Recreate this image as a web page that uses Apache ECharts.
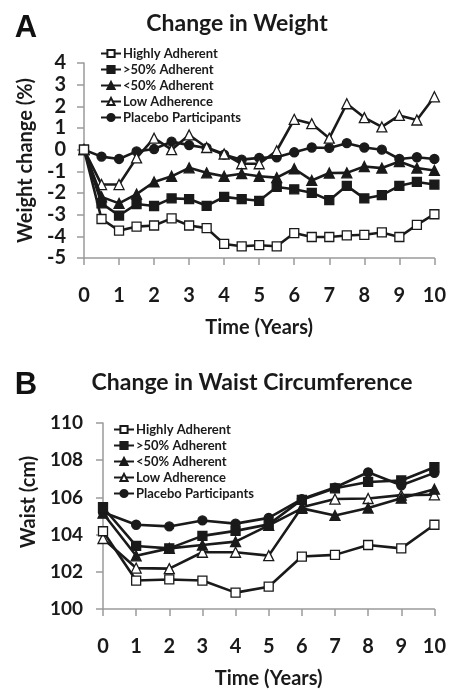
<!DOCTYPE html>
<html>
<head>
<meta charset="UTF-8">
<title>Weight and waist</title>
<script src="https://cdn.jsdelivr.net/npm/echarts@6/dist/echarts.min.js"></script>
<style>
  html, body { margin: 0; padding: 0; background: #fff; }
</style>
</head>
<body>
<div id="main" style="width:449px;height:690px;"></div>
<script type="text/javascript">
    // panel A: weight change (%), every half year
    var weightYears = [0, 0.5, 1, 1.5, 2, 2.5, 3, 3.5, 4, 4.5, 5, 5.5, 6, 6.5, 7, 7.5, 8, 8.5, 9, 9.5, 10];
    var wHighly  = [0, -3.2, -3.74, -3.55, -3.5, -3.17, -3.5, -3.62, -4.35, -4.46, -4.41, -4.46, -3.85, -4.03, -4.03, -3.96, -3.93, -3.82, -4.03, -3.47, -2.98];
    var wOver50  = [0, -2.48, -3.04, -2.51, -2.6, -2.25, -2.28, -2.59, -2.18, -2.28, -2.36, -1.72, -1.83, -1.99, -2.33, -1.67, -2.25, -2.1, -1.67, -1.49, -1.61];
    var wUnder50 = [0, -2.18, -2.48, -2.05, -1.49, -1.23, -0.84, -1.07, -1.23, -1.11, -1.23, -1.29, -0.88, -1.42, -1.08, -1.07, -0.78, -0.85, -0.55, -0.85, -0.96];
    var wLow     = [0, -1.61, -1.61, -0.38, 0.53, 0, 0.68, 0.1, -0.2, -0.65, -0.65, -0.05, 1.4, 1.2, 0.53, 2.12, 1.48, 1.05, 1.58, 1.37, 2.44];
    var wPlacebo = [0, -0.32, -0.43, -0.08, 0.03, 0.37, 0.21, 0.08, -0.23, -0.46, -0.38, -0.35, -0.12, 0.1, 0.08, 0.3, 0.1, 0, -0.43, -0.35, -0.43];

    // panel B: waist (cm), yearly
    var waistYears = [0, 1, 2, 3, 4, 5, 6, 7, 8, 9, 10];
    var cHighly  = [104.18, 101.53, 101.59, 101.53, 100.88, 101.2, 102.82, 102.91, 103.44, 103.26, 104.53];
    var cOver50  = [105.47, 103.39, 103.26, 103.93, 104.2, 104.55, 105.87, 106.49, 106.83, 106.91, 107.62];
    var cUnder50 = [105.15, 102.86, 103.26, 103.44, 103.62, 104.5, 105.41, 105.03, 105.43, 105.96, 106.44];
    var cLow     = [103.79, 102.2, 102.17, 103.05, 103.05, 102.87, 105.47, 105.91, 105.94, 106.12, 106.14];
    var cPlacebo = [105.2, 104.53, 104.44, 104.76, 104.59, 104.9, 105.91, 106.53, 107.35, 106.65, 107.32];

    var groupNames = ['Highly Adherent', '>50% Adherent', '<50% Adherent', 'Low Adherence', 'Placebo Participants'];

    var font = 'Lato, "Open Sans", sans-serif';
    var ink = '#1a1a1a';
    var axisGrey = '#9a9a9a';

    // marker look per group: symbol, filled or open, size
    var markers = [
        {symbol: 'rect', open: true, size: 9},
        {symbol: 'rect', open: false, size: 9},
        {symbol: 'triangle', open: false, size: 10},
        {symbol: 'triangle', open: true, size: 10},
        {symbol: 'circle', open: false, size: 9}
    ];

    function pairs(xs, ys) {
        var out = [];
        for (var i = 0; i < xs.length; i++) {
            out.push([xs[i], ys[i]]);
        }
        return out;
    }

    function makeSeries(idx, xs, lists) {
        var res = [];
        for (var g = 0; g < lists.length; g++) {
            var m = markers[g];
            res.push({
                name: groupNames[g],
                type: 'line',
                xAxisIndex: idx,
                yAxisIndex: idx,
                data: pairs(xs, lists[g]),
                symbol: m.symbol,
                symbolSize: m.size,
                showAllSymbol: true,
                lineStyle: {color: ink, width: 2.6},
                itemStyle: {color: m.open ? '#fff' : ink, borderColor: ink, borderWidth: 1.3},
                emphasis: {disabled: true},
                z: 10 - g
            });
        }
        return res;
    }

    function xAxisFor(idx) {
        return {
            type: 'value',
            gridIndex: idx,
            min: 0,
            max: 10,
            interval: 1,
            name: 'Time (Years)',
            nameLocation: 'middle',
            nameGap: 60,
            nameTextStyle: {fontFamily: font, fontWeight: 'bold', fontSize: 20, color: ink},
            axisLine: {onZero: false, lineStyle: {color: axisGrey, width: 1.5}},
            axisTick: {inside: false, length: 7, lineStyle: {color: axisGrey, width: 1.5}},
            axisLabel: {margin: 28, fontFamily: font, fontWeight: 'bold', fontSize: 20, color: ink},
            splitLine: {show: false}
        };
    }

    function yAxisFor(idx, min, max, step, title, gap, size, margin, shift) {
        return {
            type: 'value',
            gridIndex: idx,
            min: min,
            max: max,
            interval: step,
            name: title,
            nameLocation: 'middle',
            nameGap: gap,
            nameTextStyle: {fontFamily: font, fontWeight: 'bold', fontSize: 20, color: ink, padding: [0, 0, 0, shift]},
            axisLine: {show: true, lineStyle: {color: axisGrey, width: 1.5}},
            axisTick: {show: true, length: 7, lineStyle: {color: axisGrey, width: 1.5}},
            axisLabel: {margin: margin, fontFamily: font, fontWeight: 'bold', fontSize: size, color: ink},
            splitLine: {show: false}
        };
    }

    function legendFor(left, top) {
        return {
            orient: 'vertical',
            left: left,
            top: top,
            itemWidth: 20,
            itemHeight: 9,
            itemGap: 3,
            padding: 0,
            selectedMode: false,
            data: groupNames.map(function (n) { return {name: n}; }),
            textStyle: {fontFamily: font, fontWeight: 'bold', fontSize: 13, color: ink, padding: [0, 0, 0, -3]}
        };
    }

    var chart = echarts.init(document.getElementById('main'), null, {renderer: 'canvas'});

    var series = makeSeries(0, weightYears, [wHighly, wOver50, wUnder50, wLow, wPlacebo])
        .concat(makeSeries(1, waistYears, [cHighly, cOver50, cUnder50, cLow, cPlacebo]));

    var option = {
        backgroundColor: '#fff',
        animation: false,
        grid: [
            {left: 84, right: 13, top: 63, height: 195},
            {left: 103, right: 14, top: 423, height: 189}
        ],
        xAxis: [xAxisFor(0), xAxisFor(1)],
        yAxis: [
            yAxisFor(0, -5, 4, 1, 'Weight change (%)', 45, 20, 18, 0),
            yAxisFor(1, 100, 110, 2, 'Waist (cm)', 62, 19, 20, 28)
        ],
        legend: [legendFor(100, 47), legendFor(113, 423)],
        graphic: [
            {type: 'text', x: 26, y: 28, style: {text: 'A', font: 'bold 31px "Liberation Sans", Arial, sans-serif', fill: '#111', textAlign: 'center', textVerticalAlign: 'middle'}},
            {type: 'text', x: 237, y: 24, style: {text: 'Change in Weight', font: 'bold 23px ' + font, fill: ink, textAlign: 'center', textVerticalAlign: 'middle'}},
            {type: 'text', x: 26, y: 385, style: {text: 'B', font: 'bold 31px "Liberation Sans", Arial, sans-serif', fill: '#111', textAlign: 'center', textVerticalAlign: 'middle'}},
            {type: 'text', x: 252, y: 383, style: {text: 'Change in Waist Circumference', font: 'bold 23px ' + font, fill: ink, textAlign: 'center', textVerticalAlign: 'middle'}}
        ],
        series: series
    };

    chart.setOption(option);
</script>
</body>
</html>
